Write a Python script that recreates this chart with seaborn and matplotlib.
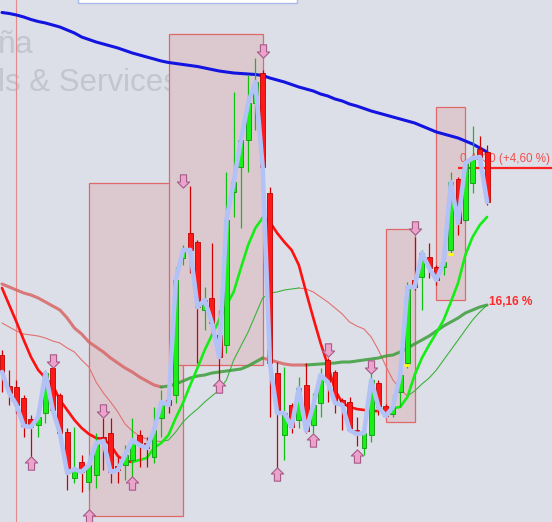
import numpy as np
import pandas as pd
import matplotlib
matplotlib.use("Agg")
import matplotlib.pyplot as plt
import seaborn as sns
from matplotlib.path import Path
from matplotlib.patches import Rectangle

# ---------------- data (prices) ----------------
opens = [.256, .225, .224, .213, .192, .186, .198, .243, .216, .179,
         .133, .149, .129, .136, .174, .178, .145, .146, .151, .176,
         .168, .154, .193, .211, .216, .353, .378, .369, .301, .313,
         .276, .266, .419, .444, .471, .508, .538, .418, .238, .176,
         .206, .191, .226, .186, .208, .251, .239, .211, .209, .181,
         .163, .176, .228, .205, .197, .219, .248, .331, .334, .354,
         .344, .344, .361, .432, .391, .428, .462, .459]
highs = [.261, .241, .231, .216, .196, .196, .241, .244, .218, .183,
         .184, .156, .154, .178, .193, .193, .154, .166, .193, .181,
         .174, .204, .221, .221, .344, .366, .425, .371, .324, .368,
         .301, .439, .519, .476, .536, .553, .541, .424, .249, .244,
         .208, .234, .248, .218, .243, .253, .241, .213, .214, .194,
         .183, .238, .231, .207, .216, .241, .329, .374, .361, .368,
         .346, .353, .439, .434, .451, .485, .475, .466]
lows = [.219, .206, .198, .174, .154, .174, .188, .199, .173, .121,
        .128, .119, .121, .123, .141, .128, .128, .131, .133, .144,
        .144, .148, .174, .198, .208, .346, .338, .248, .281, .276,
        .231, .258, .394, .383, .439, .481, .443, .194, .141, .151,
        .178, .183, .178, .178, .194, .209, .198, .181, .179, .165,
        .156, .169, .196, .194, .194, .204, .243, .321, .301, .333,
        .326, .336, .358, .376, .389, .418, .446, .406]
closes = [.239, .218, .206, .185, .184, .194, .238, .201, .178, .138,
          .142, .139, .146, .168, .170, .139, .141, .156, .171, .166,
          .163, .181, .209, .206, .331, .361, .361, .304, .311, .288,
          .254, .391, .429, .471, .508, .529, .444, .248, .198, .198,
          .184, .223, .180, .206, .236, .229, .208, .206, .181, .177,
          .178, .231, .204, .195, .204, .236, .324, .324, .358, .343,
          .331, .349, .429, .388, .448, .453, .454, .409]

ma_long = [.5985, .5975, .596, .594, .5915, .5895, .588, .586, .584, .581,
           .578, .574, .5715, .569, .567, .565, .563, .5605, .558, .556,
           .554, .552, .550, .5485, .5475, .5465, .5455, .5445, .543, .5415,
           .540, .539, .538, .5375, .537, .5365, .5355, .533, .531, .529,
           .5265, .524, .522, .520, .517, .515, .512, .510, .507, .505,
           .5025, .500, .498, .496, .494, .492, .490, .488, .485, .482,
           .479, .477, .475, .473, .470, .467, .463, .459]
ma_fast = [.323, .306, .289, .271, .254, .241, .233, .226, .211, .201,
           .191, .183, .177, .173, .172, .166, .155, .150, .149, .151,
           .153, .163, .168, .176, .193, .208, .226, .243, .261, .276,
           .291, .306, .319, .343, .366, .383, .393, .389, .378, .369,
           .361, .346, .319, .293, .268, .246, .221, .208, .204, .202,
           .201, .200, .200, .202, .203, .204, .214, .236, .253, .266,
           .278, .291, .309, .328, .356, .374, .386, .394]
ma_slow = [.327, .324, .321, .318, .316, .313, .309, .305, .301, .293,
           .283, .277, .269, .264, .259, .253, .248, .243, .239, .234,
           .230, .226, .224, .225, .227, .230, .233, .235, .236, .238,
           .239, .240, .241, .242, .245, .249, .253, .251, .249, .247,
           .246, .246, .246, .2465, .247, .2475, .248, .249, .249, .250,
           .251, .252, .253, .255, .256, .259, .263, .267, .271, .275,
           .280, .285, .289, .293, .298, .301, .304, .306]
ma_mid = [.288, .284, .280, .277, .276, .275, .273, .270, .268, .263,
          .259, .251, .244, .229, .218, .209, .199, .187, .180, .175,
          .172, .170, .1695, .171, .179, .189, .196, .202, .209, .215,
          .221, .231, .251, .265, .279, .296, .313, .318, .319, .321,
          .322, .323, .322, .319, .314, .309, .303, .297, .289, .285,
          .282, .274, .261, .245, .231, .222, .215, .220, .227, .233,
          .241, .251, .261, .271, .281, .291, .299, .306]

# signal boxes: start index, end index, top price, bottom price
box_start = [12, 23, 53, 60]
box_end = [25, 36, 57, 64]
box_top = [.428, .577, .382, .504]
box_bottom = [.095, .246, .189, .311]

# arrows (candle index, price)
down_idx = [7, 14, 25, 36, 45, 51, 57]
down_val = [.250, .200, .430, .560, .261, .244, .383]
up_idx = [4, 12, 18, 30, 38, 43, 49]
up_val = [.148, .095, .128, .225, .137, .171, .155]

yellow_idx = [56, 62]
yellow_val = [.246, .357]

marker_line_idx = 2
last_level = .443
last_label = "0,4430 (+4,60 %)"
perf_label = "16,16 %"
perf_val = .309
watermark_1 = "ña"
watermark_2 = "ls & Services"

# ---------------- style ----------------
BG = "#dcdfe7"
sns.set_theme(style="white", rc={"axes.facecolor": BG, "figure.facecolor": BG})
plt.rcParams["font.family"] = ["Liberation Sans", "DejaVu Sans"]

fig = plt.figure(figsize=(5.52, 5.22), dpi=100)
ax = fig.add_axes([0, 0, 1, 1])
ax.set_facecolor(BG)
ax.set_xlim(-0.276, 75.97)
ax.set_ylim(0.089, 0.611)
ax.set_axis_off()

n = len(closes)
idx = np.arange(n)
o = np.array(opens); c = np.array(closes); h = np.array(highs); l = np.array(lows)

# watermark (cropped at the left edge, as in the source chart)
ax.text(-0.004, 0.898, watermark_1, transform=ax.transAxes, fontsize=23,
        color="#c3c5cf", va="baseline", ha="left", zorder=0.5)
ax.text(-0.003, 0.826, watermark_2, transform=ax.transAxes, fontsize=22.5,
        color="#c3c5cf", va="baseline", ha="left", zorder=0.5)

# top legend box (cut off)
fig.patches.append(Rectangle((78 / 552, 1 - 3 / 522), 219 / 552, 0.05,
                             transform=fig.transFigure, facecolor="white",
                             edgecolor="#a9b9e9", lw=1.0, zorder=10))

# vertical marker line
ax.axvline(marker_line_idx, color="#e48a8a", lw=0.8, zorder=1)

# boxes
for s, e, t, b in zip(box_start, box_end, box_top, box_bottom):
    ax.add_patch(Rectangle((s, b), e - s, t - b, facecolor="#dcc9d0",
                           edgecolor="#e06868", lw=0.9, zorder=1.2))


def trend_frame(vals):
    vals = list(vals)
    trends = []
    prev = "down"
    for i in range(len(vals) - 1):
        if vals[i + 1] > vals[i]:
            t = "up"
        elif vals[i + 1] < vals[i]:
            t = "down"
        else:
            t = prev
        trends.append(t)
        prev = t
    rows = []
    unit = 0
    start = 0
    for i in range(1, len(trends) + 1):
        if i == len(trends) or trends[i] != trends[start]:
            for k in range(start, i + 1):
                rows.append({"x": k, "y": vals[k], "unit": unit, "trend": trends[start]})
            unit += 1
            start = i
    return pd.DataFrame(rows)


# long MA (blue)
sns.lineplot(x=idx, y=ma_long, color="#1414e0", lw=2.2, ax=ax, zorder=2.2)

# slow MA (thick, muted)
sns.lineplot(data=trend_frame(ma_slow), x="x", y="y", units="unit", hue="trend",
             estimator=None, sort=False, legend=False, lw=2.2, alpha=0.85,
             palette={"up": "#3c9e3c", "down": "#d86666"}, ax=ax, zorder=2.1)
# mid MA (thin)
sns.lineplot(data=trend_frame(ma_mid), x="x", y="y", units="unit", hue="trend",
             estimator=None, sort=False, legend=False, lw=0.8,
             palette={"up": "#3cb23c", "down": "#e07272"}, ax=ax, zorder=2.0)
# fast MA (bright)
sns.lineplot(data=trend_frame(ma_fast), x="x", y="y", units="unit", hue="trend",
             estimator=None, sort=False, legend=False, lw=1.9,
             palette={"up": "#14ee14", "down": "#ff1010"}, ax=ax, zorder=2.3)

# last price line and label
ax.hlines(last_level, 63, 80, color="#ff2020", lw=1.6, zorder=2.4)
ax.text(63.3, last_level + 0.003, last_label, fontsize=8.4, color="#f05050",
        ha="left", va="bottom", zorder=2.5)
ax.text(67.2, perf_val, perf_label, fontsize=8.6, fontweight="bold",
        color="#ff2a2a", ha="left", va="center", zorder=2.5)

# candles
up = c >= o
body_b = np.minimum(o, c)
body_h = np.maximum(np.abs(c - o), 0.0015)
ax.vlines(idx[up], l[up], h[up], color="#10c010", lw=0.9, zorder=3.5)
ax.vlines(idx[~up], l[~up], h[~up], color="#d00000", lw=0.9, zorder=3.5)
ax.bar(idx[up], body_h[up], bottom=body_b[up], width=0.68, color="#18f018",
       edgecolor="#0c9a0c", linewidth=0.6, zorder=3.6)
ax.bar(idx[~up], body_h[~up], bottom=body_b[~up], width=0.68, color="#ff1818",
       edgecolor="#c00000", linewidth=0.6, zorder=3.6)

# close line (lavender)
sns.lineplot(x=idx, y=closes, color="#b3c2f6", lw=3.3, ax=ax, zorder=4.5)

# yellow ticks
ax.hlines(yellow_val, np.array(yellow_idx) - 0.45, np.array(yellow_idx) + 0.25,
          color="#ffff00", lw=2.0, zorder=4.6)

# arrows
down_path = Path([(-3, 6.5), (3, 6.5), (3, -0.5), (6, -0.5), (0, -6.5),
                  (-6, -0.5), (-3, -0.5), (-3, 6.5)],
                 [Path.MOVETO] + [Path.LINETO] * 6 + [Path.CLOSEPOLY])
up_path = Path([(x, -y) for x, y in down_path.vertices], down_path.codes)
ax.plot(down_idx, down_val, ls="none", marker=down_path, markersize=9.6,
        markerfacecolor="#eba3cc", markeredgecolor="#a65a88", mew=0.8, zorder=6)
ax.plot(up_idx, up_val, ls="none", marker=up_path, markersize=9.6,
        markerfacecolor="#eba3cc", markeredgecolor="#a65a88", mew=0.8, zorder=6)

fig.savefig("out.png", dpi=100, facecolor=BG)
